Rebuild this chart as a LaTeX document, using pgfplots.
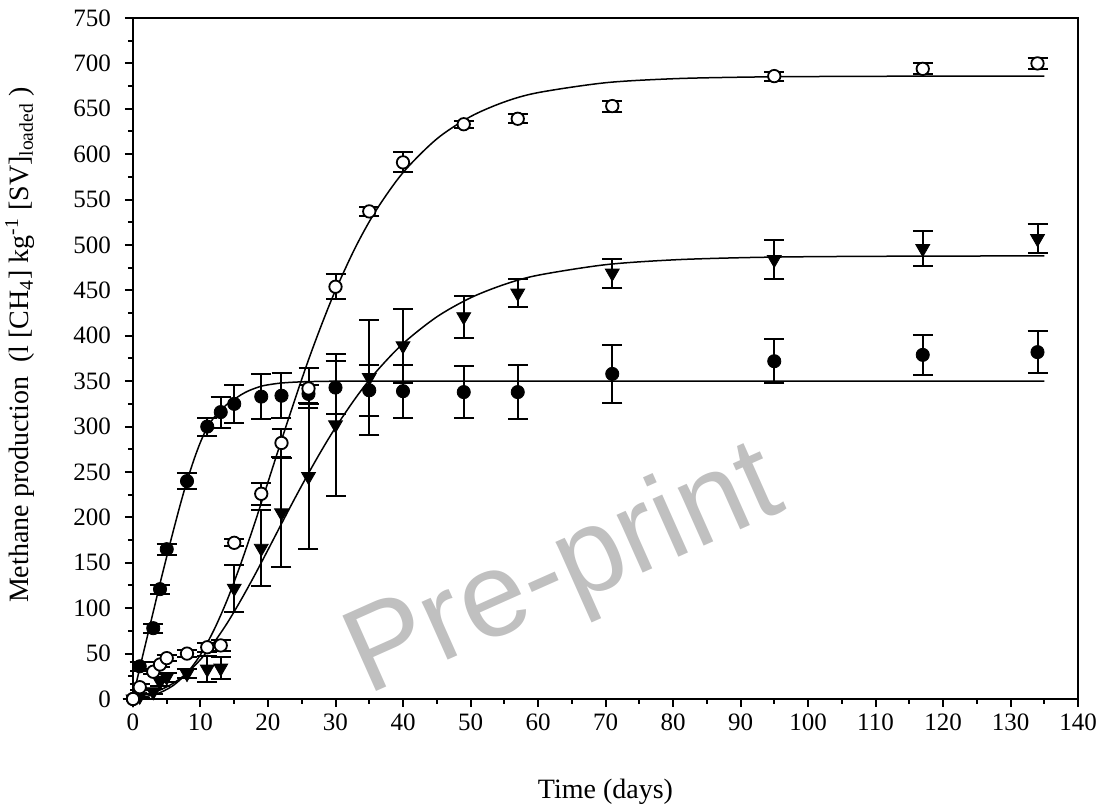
\documentclass[border=0pt]{standalone}
\usepackage{fontspec}
\setmainfont{Liberation Serif}
\setsansfont{Liberation Sans}
\usepackage{pgfplots}
\pgfplotsset{compat=1.18}
\definecolor{wmgray}{RGB}{192,192,192}

\pgfplotsset{
  errstyle/.style={
    error bars/.cd, y dir=both, y explicit,
    error bar style={line width=1pt, black},
    error mark options={rotate=90, mark size=5pt, line width=1pt, black}
  },
}

\begin{document}
\begin{tikzpicture}
\begin{axis}[
  name=ax,
  scale only axis,
  width=472.5pt, height=340.5pt,
  xmin=0, xmax=140, ymin=0, ymax=750,
  xtick distance=10, ytick distance=50,
  minor x tick num=1, minor y tick num=1,
  xtick pos=bottom, ytick pos=left,
  tick align=outside,
  major tick length=4pt, minor tick length=2.5pt,
  every tick/.style={black, line width=1pt},
  axis line style={line width=1pt},
  clip=false,
  tick label style={font=\fontsize{12.5}{13}\selectfont},
  yticklabel style={xshift=-3.5pt},
  /pgf/number format/assume math mode=true,
  xlabel={Time (days)},
  ylabel={Methane production\ \ (l [CH\textsubscript{4}] kg\textsuperscript{-1} [SV]\textsubscript{loaded} )},
  every axis x label/.style={at={(axis description cs:0.5,-0.1366)}, anchor=center, font=\fontsize{14}{16}\selectfont},
  every axis y label/.style={at={(axis description cs:-0.1196,0.52)}, rotate=90, anchor=center, font=\fontsize{14}{16}\selectfont},
]

% watermark
\node[rotate=24, text=wmgray, font=\fontsize{60}{60}\sffamily] at (axis cs:64,138) {Pre-print};

% fitted curves
\addplot[black, line width=0.75pt, smooth, no marks] coordinates {
(0,2)(1,34)(2,65)(3,96)(4,127)(5,157)(6,186)(7,214)(8,240)(9,263)(10,283)
(11,299)(12,310)(13,318)(14,325)(15,330)(16,335)(17,339)(18,342)(19,344.5)
(20,346)(22,348)(25,349.3)(30,350)(40,350)(135,350)
};
\addplot[black, line width=0.75pt, smooth, no marks] coordinates {
(0,0.9)(2,2.8)(4,7.0)(6,15.1)(8,28.7)(10,48.8)(12,76.1)(14,109.9)(16,149.6)
(18,193.0)(20,238.9)(22,285.1)(24,330.2)(26,373.5)(28,413.4)(30,450.1)
(33,498.1)(36,538.0)(40,579.7)(45,616.8)(50,641.4)(55,657.5)(60,667.8)
(70,678.7)(80,683.1)(90,684.8)(100,685.5)(115,685.9)(135,686)
};
\addplot[black, line width=0.75pt, smooth, no marks] coordinates {
(0,2.3)(2,5.0)(4,9.9)(6,17.5)(8,28.6)(10,43.5)(12,62.2)(14,84.1)(16,109.1)
(18,136.0)(20,164.3)(22,193.0)(24,221.3)(26,248.6)(28,274.6)(30,298.9)
(33,331.7)(36,360.2)(40,391.4)(45,420.8)(50,441.8)(55,456.5)(60,466.7)
(70,478.3)(80,483.6)(90,486.0)(100,487.1)(115,487.7)(135,488)
};

% triangles
\addplot[only marks, black, mark=triangle*, mark size=4pt, mark options={rotate=180, fill=black}, errstyle]
table[x=t, y=y, y error=e] {
t y e
0 0 0
1 3 2
3 8 3
4 19 5
5 24 5
8 28 5
11 33 14
13 34 12
15 122 26
19 166 42
22 205 60
26 245 80
30 302 78
35 354 63
40 389 41
49 421 23
57 447 15
71 469 16
95 484 22
117 496 19
134 507 16
};

% filled circles
\addplot[only marks, black, mark=*, mark size=3.3pt, mark options={fill=black}, errstyle]
table[x=t, y=y, y error=e] {
t y e
0 0 0
1 36 5
3 78 5
4 121 5
5 165 6
8 240 9
11 300 10
13 316 17
15 325 21
19 333 25
22 334 25
26 336 10
30 343 29
35 340 28
40 339 29
49 338 29
57 338 30
71 358 32
95 372 24
117 379 22
134 382 23
};

% open circles
\addplot[only marks, black, mark=*, mark size=3.1pt, mark options={fill=white, line width=0.9pt}, errstyle]
table[x=t, y=y, y error=e] {
t y e
0 0 0
1 13 3
3 30 3
4 38 3
5 45 3
8 50 4
11 57 5
13 59 6
15 172 4
19 226 12
22 282 15
26 342 22
30 454 14
35 537 5
40 591 11
49 633 4
57 639 5
71 653 6
95 686 5
117 694 6
134 700 6
};
\end{axis}
\pgfresetboundingbox
\path[use as bounding box] ([shift={(-66.5pt,-56.5pt)}]ax.south west) rectangle ([shift={(15.5pt,9pt)}]ax.north east);
\end{tikzpicture}
\end{document}
